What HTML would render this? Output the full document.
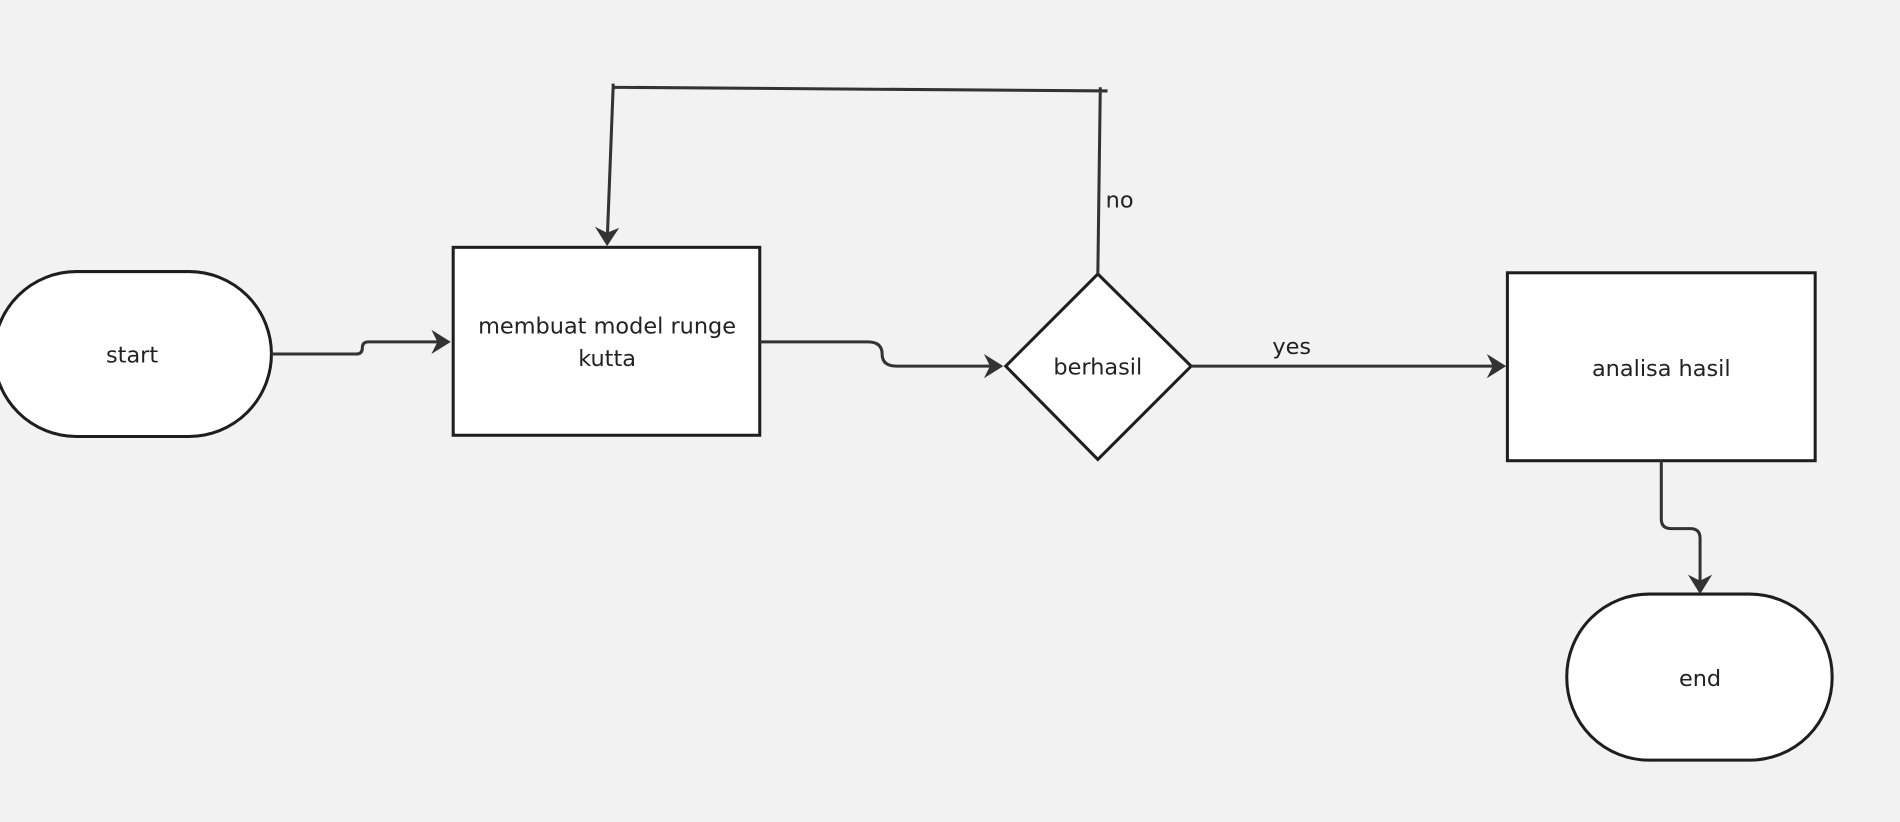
<!DOCTYPE html>
<html><head><meta charset="utf-8"><style>
html,body{margin:0;padding:0;background:#f2f2f2;}
svg{display:block;}
text{font-family:"DejaVu Sans","Liberation Sans",sans-serif;font-size:18.5px;fill:#222;}
</style></head><body>
<svg width="1900" height="822" viewBox="0 0 1568 678" preserveAspectRatio="none" xmlns="http://www.w3.org/2000/svg">
<rect width="1568" height="678" fill="#f2f2f2"/>
<g fill="#fff" stroke="#1e1e1e" stroke-width="2.5">
<rect x="-5" y="224" width="229" height="136" rx="68"/>
<rect x="374" y="204" width="253" height="155"/>
<polygon points="906,226 983,302 906,379 830,302"/>
<rect x="1244" y="225" width="254" height="155"/>
<rect x="1293" y="490" width="219" height="137" rx="68"/>
</g>
<g fill="none" stroke="#333" stroke-width="2.5">
<path d="M224,292 H294 Q299,292 299,287 Q299,282 304,282 H370"/>
<path d="M627,282 H716 Q728,282 728,292 Q728,302 740,302 H826"/>
<path d="M983,302 H1240"/>
<path d="M906,226 L908,75 M914,75 L506,72 L501,201 M908,72 V78 M506,69 V75"/>
<path d="M1371,380 V428 Q1371,436 1379,436 H1395 Q1403,436 1403,444 V488"/>
</g>
<g fill="#333">
<path d="M372,282 L356,272 L361,282 L356,292 Z"/>
<path d="M828,302 L812,292 L817,302 L812,312 Z"/>
<path d="M1243,302 L1227,292 L1232,302 L1227,312 Z"/>
<path d="M501,203 L491,187 L501,192 L511,188 Z"/>
<path d="M1403,490 L1393,474 L1403,479 L1413,474 Z"/>
</g>
<g text-anchor="middle">
<text x="109" y="299">start</text>
<text x="501" y="275">membuat model runge</text>
<text x="501" y="302">kutta</text>
<text x="906" y="309">berhasil</text>
<text x="1371" y="310">analisa hasil</text>
<text x="1403" y="566">end</text>
<text x="1066" y="292">yes</text>
<text x="924" y="171">no</text>
</g>
</svg>
</body></html>
